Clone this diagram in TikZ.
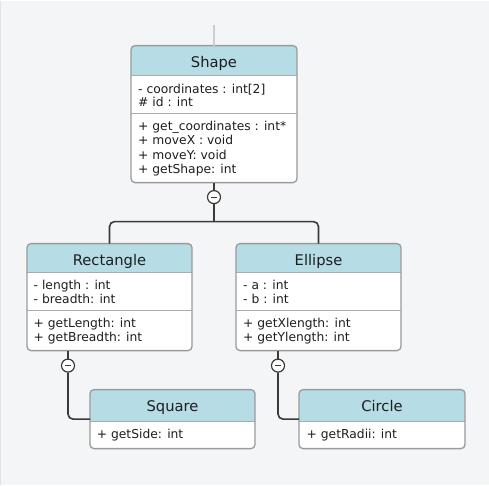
\documentclass[tikz,border=0pt]{standalone}
\usepackage{fontspec}
\setmainfont{DejaVu Sans}
\usetikzlibrary{fit}
\definecolor{bgc}{HTML}{F4F5F7}
\definecolor{edgec}{HTML}{E2E3E6}
\definecolor{hdr}{HTML}{B6DCE6}
\definecolor{bord}{HTML}{9A9A9A}
\definecolor{sepc}{HTML}{ABABAB}
\definecolor{connc}{HTML}{3A3A3A}
\definecolor{topc}{HTML}{CDCDCD}
\definecolor{txtc}{HTML}{1E1E1E}
\tikzset{
  boxnode/.style={inner sep=0pt,outer sep=0pt},
  border/.style={draw=bord,line width=1.3pt,rounded corners=4pt},
  sepline/.style={draw=sepc,line width=1.4pt},
  title/.style={anchor=base,text=txtc,font=\fontsize{14.7}{17}\selectfont,inner sep=0pt},
  member/.style={anchor=base west,text=txtc,font=\fontsize{12.3}{14}\selectfont,inner sep=0pt},
  conn/.style={draw=connc,line width=1.6pt},
  topline/.style={draw=topc,line width=1.4pt},
  minus/.style={circle,draw=connc,fill=white,line width=1.2pt,minimum size=13pt,inner sep=0pt,
    path picture={\draw[connc,line width=1.2pt] ([xshift=-3.2pt]path picture bounding box.center) -- ([xshift=3.2pt]path picture bounding box.center);}}
}
% #1 name, #2 x1, #3 y1, #4 x2, #5 y2, #6 header bottom, #7 title
\newcommand\umlcls[7]{%
  \node[boxnode,fit={(#2,#3) (#4,#5)}] (#1) {};
  \begin{scope}
    \clip[rounded corners=4pt] (#2,#3) rectangle (#4,#5);
    \fill[white] (#2,#3) rectangle (#4,#5);
    \fill[hdr] (#2,#3) rectangle (#4,#6);
  \end{scope}
  \draw[sepline] (#2,#6) -- (#4,#6);
  \draw[border] (#2,#3) rectangle (#4,#5);
  \node[title] (#1-title) at ({(#2+#4)/2},{#3+21.5}) {#7};
}
\begin{document}
\begin{tikzpicture}[x=1pt,y=-1pt]
\fill[bgc] (0,0) rectangle (489,484);
\draw[edgec,line width=1.2pt] (0.6,0) -- (0.6,484);
\useasboundingbox (0,0) rectangle (489,484);

% classes
\umlcls{shape}{131}{45}{297}{182}{75}{Shape}
\draw[sepline] (131,113) -- (297,113);
\node[member] (s1) at (138,92.7) {- coordinates : int[2]};
\node[member] (s2) at (138,106.3) {\# id : int};
\node[member] (s3) at (138,130) {+ get\_coordinates : int*};
\node[member] (s4) at (138,144.2) {+ moveX : void};
\node[member] (s5) at (138,158.4) {+ moveY: void};
\node[member] (s6) at (138,172.6) {+ getShape: int};

\umlcls{rect}{27}{243}{192}{350}{272}{Rectangle}
\draw[sepline] (27,310) -- (192,310);
\node[member] (r1) at (33.5,289) {- length : int};
\node[member] (r2) at (33.5,303) {- breadth: int};
\node[member] (r3) at (33.5,326.7) {+ getLength: int};
\node[member] (r4) at (33.5,340.7) {+ getBreadth: int};

\umlcls{ell}{236}{243}{401}{350}{272}{Ellipse}
\draw[sepline] (236,310) -- (401,310);
\node[member] (e1) at (243,289) {- a : int};
\node[member] (e2) at (243,303) {- b : int};
\node[member] (e3) at (243,326.7) {+ getXlength: int};
\node[member] (e4) at (243,340.7) {+ getYlength: int};

\umlcls{sq}{90}{389}{255}{448}{421}{Square}
\node[member] (q1) at (96.7,437.7) {+ getSide: int};

\umlcls{circ}{299}{389}{465}{448}{421}{Circle}
\node[member] (c1) at (306.5,437.7) {+ getRadii: int};

% connectors
\coordinate (top) at (214,24);
\draw[topline] (top) -- (shape.north);

\node[minus] (m1) at (214,196.5) {};
\coordinate (fork) at (214,221);
\draw[conn] (shape.south) -- (m1.north);
\draw[conn] (m1.south) -- (fork);
\draw[conn,rounded corners=5pt] (rect.north) |- (fork) -| (ell.north);

\node[minus] (m2) at (68,365) {};
\draw[conn] (m2 |- rect.south) -- (m2.north);
\draw[conn,rounded corners=5pt] (m2.south) |- (sq.west);

\node[minus] (m3) at (278,365) {};
\draw[conn] (m3 |- ell.south) -- (m3.north);
\draw[conn,rounded corners=5pt] (m3.south) |- (circ.west);
\end{tikzpicture}
\end{document}
